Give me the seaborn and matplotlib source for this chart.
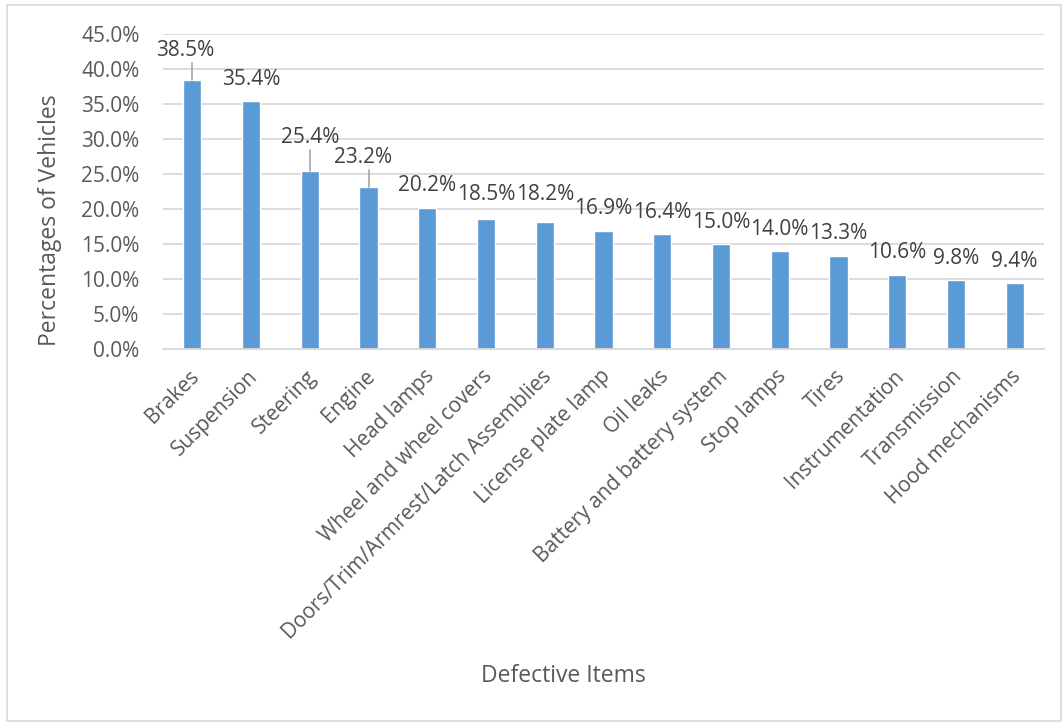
import matplotlib
matplotlib.use("Agg")
import matplotlib.pyplot as plt
import seaborn as sns
import pandas as pd
from matplotlib.patches import Rectangle
from matplotlib.ticker import PercentFormatter

categories = ["Brakes", "Suspension", "Steering", "Engine", "Head lamps",
              "Wheel and wheel covers", "Doors/Trim/Armrest/Latch Assemblies",
              "License plate lamp", "Oil leaks", "Battery and battery system",
              "Stop lamps", "Tires", "Instrumentation", "Transmission",
              "Hood mechanisms"]
values = [38.5, 35.4, 25.4, 23.2, 20.2, 18.5, 18.2, 16.9, 16.4, 15.0,
          14.0, 13.3, 10.6, 9.8, 9.4]
y_ticks = [0, 5, 10, 15, 20, 25, 30, 35, 40, 45]

# label placement style (offset in % units above bar, x shift in category units)
label_dy = {0: 4.2, 2: 4.86, 3: 4.2, 5: 3.5, 6: 3.8}
label_dx = {0: -0.12, 3: -0.1}
leader = {0, 2, 3}

sns.set_style("white")
plt.rcParams['font.family'] = ['Open Sans', 'DejaVu Sans']

BAR = "#5B9BD5"
TXT = "#595959"
GRID = "#D9D9D9"

df = pd.DataFrame({"cat": categories, "val": values})

fig = plt.figure(figsize=(10.63, 7.22), dpi=100)
W, H = 1063, 722
ax = fig.add_axes([163 / W, 1 - 349 / H, (1044 - 163) / W, (349 - 34) / H])

sns.barplot(data=df, x="cat", y="val", color=BAR, saturation=1,
            width=0.31, ax=ax, order=categories)

ax.set_ylim(0, 45)
ax.set_xlim(-0.5, len(categories) - 0.5)
ax.set_yticks(y_ticks)
ax.yaxis.set_major_formatter(PercentFormatter(decimals=1))
ax.grid(axis="y", color=GRID, linewidth=1.3)
ax.set_axisbelow(True)
for s in ["top", "right", "left"]:
    ax.spines[s].set_visible(False)
ax.spines["bottom"].set_color(GRID)
ax.spines["bottom"].set_linewidth(1.3)
ax.tick_params(axis="y", length=0, pad=17, labelsize=15, labelcolor=TXT)
ax.tick_params(axis="x", length=0, pad=10, labelsize=15, labelcolor=TXT)
ax.set_xticks(range(len(categories)))
ax.set_xticklabels(categories, rotation=45, ha="right", va="center",
                   rotation_mode="anchor")
for lab in ax.get_xticklabels():
    lab.set_transform(lab.get_transform() +
                      matplotlib.transforms.ScaledTranslation(2.5 / 72, -7.5 / 72, fig.dpi_scale_trans))
ax.set_xlabel("")
ax.set_ylabel("")

for i, v in enumerate(values):
    dy = label_dy.get(i, 3.14)
    dx = label_dx.get(i, 0.0)
    ax.text(i + dx, v + dy, f"{v:.1f}%", ha="center", va="center",
            fontsize=15, color="#404040")
    if i in leader:
        ax.plot([i, i], [v, v + dy - 1.85], color="#A6A6A6", linewidth=1.2)

fig.text(50 / W, 1 - 220 / H, "Percentages of Vehicles", rotation=90,
         ha="center", va="center", fontsize=16.5, color=TXT)
fig.text(563 / W, 1 - 676 / H, "Defective Items", ha="center", va="center",
         fontsize=16.5, color=TXT)

fig.patches.append(Rectangle((7 / W, 1 - 721 / H), (1061 - 7) / W, (721 - 5) / H,
                             transform=fig.transFigure, fill=False,
                             edgecolor=GRID, linewidth=1.2))

fig.savefig("out.png", dpi=100)
